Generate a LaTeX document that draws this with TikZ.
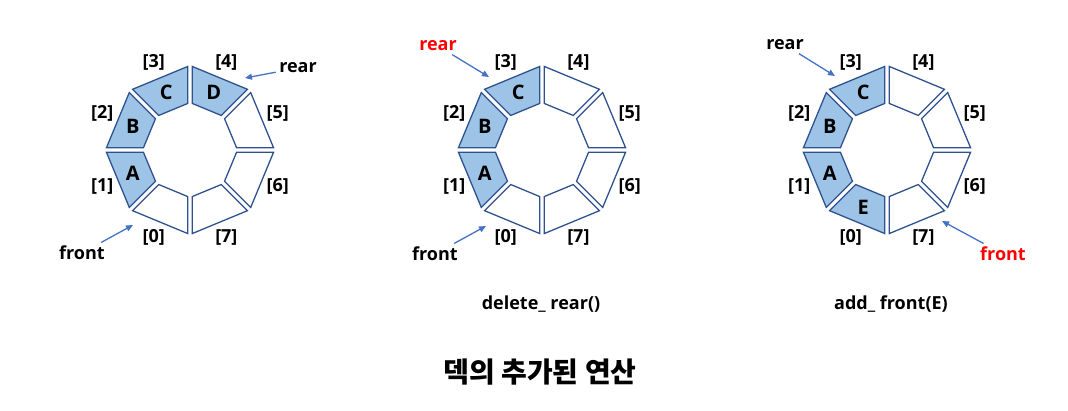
\documentclass[tikz,border=0pt]{standalone}
\usepackage{fontspec}
\setmainfont{Open Sans}
\newfontfamily\krfont{Noto Sans CJK KR}
\usetikzlibrary{arrows.meta}

\definecolor{slotline}{RGB}{47,82,143}
\definecolor{slotfill}{RGB}{157,195,230}
\definecolor{ptrline}{RGB}{68,114,196}

\tikzset{
  slot/.style={draw=slotline, line width=1.3pt, line join=miter},
  full/.style={slot, fill=slotfill},
  idx/.style={font=\bfseries\fontsize{18}{20}\selectfont},
  item/.style={font=\bfseries\fontsize{20}{22}\selectfont},
  ptrtext/.style={font=\bfseries\fontsize{18}{20}\selectfont},
  ptr/.style={-{Triangle[length=7pt,width=6pt]}, draw=ptrline, line width=1.3pt},
  opname/.style={font=\bfseries\fontsize{18}{20}\selectfont}
}

\begin{document}
\begin{tikzpicture}[x=1pt,y=1pt]
  \useasboundingbox (0,0) rectangle (1068,410);

  % first deque
  \begin{scope}[shift={(190,260)}]
    \foreach \k/\s/\t in {0/slot/,1/full/A,2/full/B,3/full/C,4/full/D,5/slot/,6/slot/,7/slot/} {
      \pgfmathsetmacro\m{247.5-45*\k}
      \draw [\s, shift={(\m:6)}] ({\m-22.5}:78) -- ({\m+22.5}:78) -- ({\m+22.5}:41) -- ({\m-22.5}:41) -- cycle;
      \node [item] (a\k) at (\m:62) {\t};
      \node [idx] (ai\k) at (\m:95) {[\k]};
    }
  \end{scope}
  \node [ptrtext] (arear) at (298,342) {rear};
  \coordinate (areartip) at (245,332);
  \draw [ptr] (arear) -- (areartip);
  \node [ptrtext] (afront) at (82,157) {front};
  \coordinate (afronttip) at (133,185);
  \draw [ptr] (afront) -- (afronttip);

  % after delete_rear
  \begin{scope}[shift={(542,260)}]
    \foreach \k/\s/\t in {0/slot/,1/full/A,2/full/B,3/full/C,4/slot/,5/slot/,6/slot/,7/slot/} {
      \pgfmathsetmacro\m{247.5-45*\k}
      \draw [\s, shift={(\m:6)}] ({\m-22.5}:78) -- ({\m+22.5}:78) -- ({\m+22.5}:41) -- ({\m-22.5}:41) -- cycle;
      \node [item] (b\k) at (\m:62) {\t};
      \node [idx] (bi\k) at (\m:95) {[\k]};
    }
  \end{scope}
  \node [ptrtext, text=red] (brear) at (438,364) {rear};
  \coordinate (breartip) at (489,333);
  \draw [ptr] (brear) -- (breartip);
  \node [ptrtext] (bfront) at (435,156) {front};
  \coordinate (bfronttip) at (486,184);
  \draw [ptr] (bfront) -- (bfronttip);
  \node [opname] (bop) at (541,106) {delete\_ rear()};

  % after add_front
  \begin{scope}[shift={(887,260)}]
    \foreach \k/\s/\t in {0/full/E,1/full/A,2/full/B,3/full/C,4/slot/,5/slot/,6/slot/,7/slot/} {
      \pgfmathsetmacro\m{247.5-45*\k}
      \draw [\s, shift={(\m:6)}] ({\m-22.5}:78) -- ({\m+22.5}:78) -- ({\m+22.5}:41) -- ({\m-22.5}:41) -- cycle;
      \node [item] (c\k) at (\m:62) {\t};
      \node [idx] (ci\k) at (\m:95) {[\k]};
    }
  \end{scope}
  \node [ptrtext] (crear) at (785,365) {rear};
  \coordinate (creartip) at (835,334);
  \draw [ptr] (crear) -- (creartip);
  \node [ptrtext, text=red] (cfront) at (1003,156) {front};
  \coordinate (cfronttip) at (942,189);
  \draw [ptr] (cfront) -- (cfronttip);
  \node [opname] (cop) at (891,106) {add\_ front(E)};

  \node [font=\krfont\bfseries\fontsize{28}{30}\selectfont] (title) at (540,38) {덱의 추가된 연산};
\end{tikzpicture}
\end{document}
